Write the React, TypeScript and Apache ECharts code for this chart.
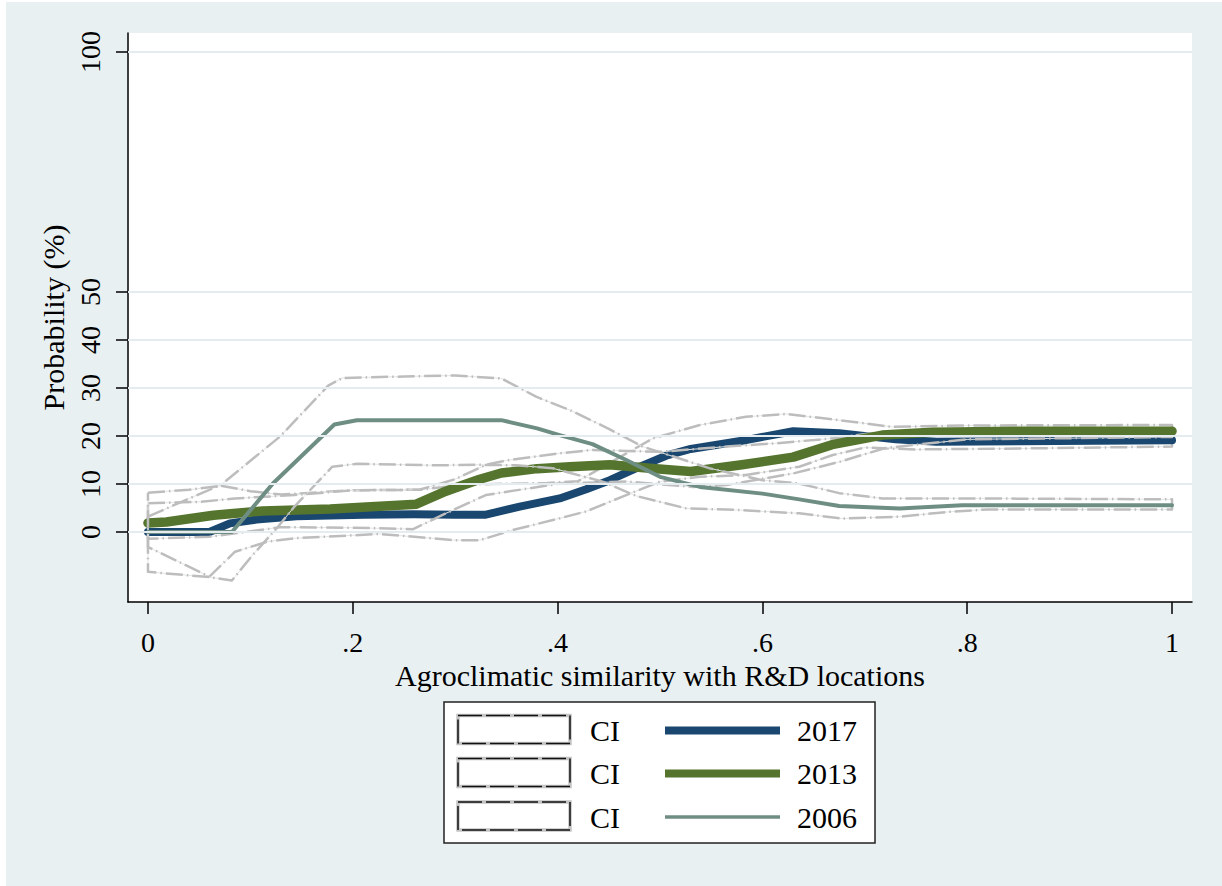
import React, { useEffect, useRef } from "react";
import * as echarts from "echarts";

const FONT = "'Liberation Serif', 'Times New Roman', Times, serif";

// X-axis ticks and Y-axis ticks
const xTicks = [0, 0.2, 0.4, 0.6, 0.8, 1];
const yTicks = [0, 10, 20, 30, 40, 50, 100];

// Point estimates
const x2017 = [0, 0.06, 0.08, 0.106, 0.145, 0.21, 0.26, 0.3, 0.33, 0.363, 0.402, 0.428, 0.451, 0.477, 0.506, 0.53, 0.58, 0.63, 0.675, 0.73, 0.77, 0.85, 1];
const y2017 = [0, 0, 1.8, 2.6, 3.3, 3.6, 3.7, 3.6, 3.6, 5.3, 7.0, 8.9, 10.8, 13.3, 15.9, 17.3, 19.0, 21.0, 20.6, 19.3, 18.8, 18.9, 19.1];

const x2013 = [0, 0.018, 0.064, 0.112, 0.178, 0.262, 0.291, 0.308, 0.324, 0.345, 0.38, 0.412, 0.451, 0.49, 0.53, 0.58, 0.63, 0.668, 0.717, 0.766, 0.863, 1];
const y2013 = [1.9, 2.1, 3.5, 4.4, 4.8, 5.8, 8.5, 9.8, 11.0, 12.3, 13.2, 13.6, 14.0, 13.3, 12.6, 14.0, 15.6, 18.2, 20.2, 20.8, 21.0, 21.0];

const x2006 = [0, 0.082, 0.122, 0.182, 0.204, 0.345, 0.38, 0.402, 0.434, 0.467, 0.5, 0.539, 0.6, 0.636, 0.675, 0.734, 0.795, 1];
const y2006 = [0, 0, 10.1, 22.4, 23.3, 23.3, 21.6, 20.2, 18.3, 15.0, 11.5, 9.4, 8.0, 6.8, 5.4, 4.9, 5.6, 5.6];

// Confidence intervals
const ci2017UpperX = [0, 0.035, 0.07, 0.1, 0.13, 0.2, 0.265, 0.311, 0.39, 0.42, 0.46, 0.493, 0.539, 0.584, 0.623, 0.675, 0.727, 0.8, 1];
const ci2017UpperY = [3.2, 6.5, 9.7, 8.5, 7.8, 8.7, 8.8, 9.9, 10.2, 10.6, 15.5, 19.5, 22.3, 24.0, 24.6, 23.3, 21.9, 22.2, 22.3];
const ci2017LowerX = [0, 0.06, 0.085, 0.117, 0.143, 0.226, 0.3, 0.324, 0.356, 0.402, 0.428, 0.467, 0.5, 0.539, 0.584, 0.636, 0.668, 0.7, 0.75, 0.85, 1];
const ci2017LowerY = [-3.1, -9.3, -4.1, -2.0, -1.3, -0.4, -1.7, -1.7, 0.4, 2.85, 4.3, 7.7, 10.5, 11.5, 11.9, 13.6, 16.0, 17.6, 17.2, 17.4, 17.8];

const ci2013UpperX = [0, 0.052, 0.085, 0.143, 0.2, 0.265, 0.3, 0.33, 0.35, 0.402, 0.434, 0.5, 0.565, 0.614, 0.668, 0.707, 0.8, 1];
const ci2013UpperY = [6.0, 6.3, 7.0, 7.7, 8.7, 8.8, 11.0, 14.0, 14.9, 16.4, 17.1, 16.7, 17.8, 18.5, 19.5, 20.6, 21.3, 21.4];
const ci2013LowerX = [0, 0.06, 0.129, 0.2, 0.259, 0.291, 0.33, 0.402, 0.467, 0.532, 0.565, 0.63, 0.675, 0.72, 0.8, 1];
const ci2013LowerY = [-1.4, -1.0, 1.0, 0.9, 0.6, 3.9, 7.7, 10.1, 10.5, 9.4, 9.8, 12.2, 14.6, 17.5, 19.3, 19.8];

const ci2006UpperX = [0, 0.04, 0.07, 0.129, 0.176, 0.19, 0.25, 0.3, 0.345, 0.379, 0.412, 0.45, 0.483, 0.548, 0.6, 0.636, 0.675, 0.717, 0.8, 1];
const ci2006UpperY = [8.2, 8.8, 9.6, 19.9, 30.5, 32.1, 32.4, 32.6, 32.0, 28.2, 25.4, 21.5, 17.8, 13.3, 10.8, 10.1, 8.1, 7.0, 7.0, 6.8];
const ci2006LowerX = [0, 0.06, 0.082, 0.101, 0.127, 0.143, 0.18, 0.204, 0.28, 0.324, 0.36, 0.395, 0.444, 0.477, 0.526, 0.575, 0.636, 0.678, 0.734, 0.782, 0.82, 1];
const ci2006LowerY = [-8.3, -9.4, -10.1, -5.1, 1.1, 5.3, 13.6, 14.2, 13.9, 14.0, 13.9, 13.3, 10.5, 7.5, 4.9, 4.6, 3.9, 2.8, 3.2, 4.2, 4.7, 4.7];

const legendYears = ["2017", "2013", "2006"];
const legendCI = ["CI", "CI", "CI"];

const C2017 = "#1a476f";
const C2013 = "#55752f";
const C2006 = "#6e8e84";
const CI_COLOR = "#bdbdbd";
const BG = "#e9f0f2";
const GRID_LINE = "#e4ecef";

function zipXY(xs: number[], ys: number[]) {
  return xs.map((x, i) => [x, ys[i]]);
}

function bandPolygon(ux: number[], uy: number[], lx: number[], ly: number[]) {
  const up = zipXY(ux, uy);
  const lo = zipXY(lx, ly).reverse();
  return [...up, ...lo, up[0]];
}

function ciSeries(data: number[][], withGrid = false) {
  const thin: any = {
    type: "line",
    data,
    showSymbol: false,
    symbol: "none",
    silent: true,
    lineStyle: { color: "#e2e5e5", width: 1 },
  };
  if (withGrid) {
    thin.markLine = {
      silent: true,
      symbol: ["none", "none"],
      label: { show: false },
      lineStyle: { color: GRID_LINE, width: 2, type: "solid" },
      data: yTicks.map((v) => ({ yAxis: v })),
    };
  }
  const dashed = {
    type: "line",
    data,
    showSymbol: false,
    symbol: "none",
    silent: true,
    lineStyle: { color: CI_COLOR, width: 2.5, type: [17, 4, 1.5, 4], cap: "butt", join: "round" },
  };
  return [thin, dashed];
}

function mainSeries(name: string, xs: number[], ys: number[], color: string, width: number) {
  return {
    name,
    type: "line",
    data: zipXY(xs, ys),
    showSymbol: false,
    symbol: "none",
    silent: true,
    lineStyle: { color, width, cap: "round", join: "round" },
  };
}

export default function App() {
  const ref = useRef<HTMLDivElement>(null);
  useEffect(() => {
    if (!ref.current) return;
    const chart = echarts.init(ref.current, null, { renderer: "svg" });

    const rowsY = [729.5, 772.5, 816];
    const lineColors = [C2017, C2013, C2006];
    const lineWidths = [8, 8, 3.5];
    const legendEls: any[] = [
      { type: "rect", shape: { x: 444, y: 702, width: 431, height: 141 }, style: { fill: "#fff", stroke: "#222", lineWidth: 1.5 } },
    ];
    rowsY.forEach((yc, i) => {
      legendEls.push({ type: "rect", shape: { x: 458, y: yc - 14, width: 112, height: 28 }, style: { fill: "#fff", stroke: "#c4c4c4", lineWidth: 3.5 } });
      legendEls.push({ type: "rect", shape: { x: 458, y: yc - 14, width: 112, height: 28 }, style: { fill: "none", stroke: "#111", lineWidth: 1.5, lineDash: [24, 4] } });
      legendEls.push({ type: "text", x: 590, y: yc + 1, style: { text: legendCI[i], fontSize: 30, fontFamily: FONT, fill: "#000", textVerticalAlign: "middle", verticalAlign: "middle" } });
      legendEls.push({ type: "line", shape: { x1: 665, y1: yc + 1, x2: 780, y2: yc + 1 }, style: { stroke: lineColors[i], lineWidth: lineWidths[i] } });
      legendEls.push({ type: "text", x: 797, y: yc + 1, style: { text: legendYears[i], fontSize: 30, fontFamily: FONT, fill: "#000", textVerticalAlign: "middle", verticalAlign: "middle" } });
    });

    const option: any = {
      animation: false,
      backgroundColor: BG,
      grid: { left: 128, right: 30, top: 33, bottom: 284, show: true, backgroundColor: "#fff", borderWidth: 0, containLabel: false },
      xAxis: {
        type: "value",
        min: -0.0195,
        max: 1.0195,
        axisLine: { show: true, onZero: false, lineStyle: { color: "#000", width: 1.5 } },
        axisTick: { show: true, length: 12, lineStyle: { color: "#000", width: 1.5 }, customValues: xTicks },
        axisLabel: {
          customValues: xTicks,
          formatter: (v: number) => (v === 0 ? "0" : v === 1 ? "1" : String(v).replace(/^0/, "")),
          fontSize: 28,
          fontFamily: FONT,
          color: "#000",
          margin: 26,
        },
        splitLine: { show: false },
        name: "Agroclimatic similarity with R&D locations",
        nameLocation: "middle",
        nameGap: 50,
        nameTextStyle: { fontSize: 30, fontFamily: FONT, color: "#000" },
      },
      yAxis: {
        type: "value",
        min: -14.58,
        max: 103.96,
        axisLine: { show: true, onZero: false, lineStyle: { color: "#000", width: 1.5 } },
        axisTick: { show: true, length: 12, lineStyle: { color: "#000", width: 1.5 }, customValues: yTicks },
        axisLabel: {
          customValues: yTicks,
          rotate: 90,
          fontSize: 28,
          fontFamily: FONT,
          color: "#000",
          margin: 24,
        },
        splitLine: { show: false },
        name: "Probability (%)",
        nameLocation: "middle",
        nameGap: 52,
        nameRotate: 90,
        nameTextStyle: { fontSize: 30, fontFamily: FONT, color: "#000" },
      },
      graphic: [
        { type: "rect", shape: { x: 0, y: 0, width: 6, height: 886 }, style: { fill: "#fff" } },
        { type: "rect", shape: { x: 0, y: 0, width: 1222, height: 2 }, style: { fill: "#fff" } },
        ...legendEls,
      ],
      series: [
        ...ciSeries(bandPolygon(ci2017UpperX, ci2017UpperY, ci2017LowerX, ci2017LowerY), true),
        mainSeries("2017", x2017, y2017, C2017, 8),
        ...ciSeries(bandPolygon(ci2013UpperX, ci2013UpperY, ci2013LowerX, ci2013LowerY)),
        mainSeries("2013", x2013, y2013, C2013, 9.5),
        ...ciSeries(bandPolygon(ci2006UpperX, ci2006UpperY, ci2006LowerX, ci2006LowerY)),
        mainSeries("2006", x2006, y2006, C2006, 4),
      ],
    };
    chart.setOption(option);
    return () => chart.dispose();
  }, []);

  return <div ref={ref} style={{ position: "fixed", left: 0, top: 0, width: 1222, height: 886 }} />;
}
